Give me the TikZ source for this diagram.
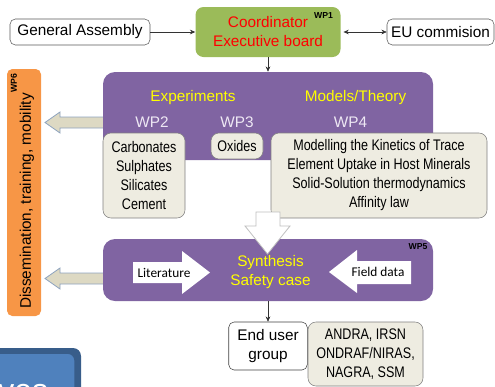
\documentclass[tikz,border=0pt]{standalone}
\usepackage{fontspec}
\setmainfont{Liberation Sans}
\newfontfamily\narrowfont[FakeStretch=0.82]{Liberation Sans}
\newfontfamily\calfont{Carlito}
\usetikzlibrary{arrows.meta,positioning}
\newcommand{\mainsize}{\fontsize{11.5pt}{14.25pt}\selectfont}
\definecolor{wpgreen}{HTML}{9BBB59}
\definecolor{wppurple}{HTML}{8064A2}
\definecolor{wporange}{HTML}{F79646}
\definecolor{wpbeige}{HTML}{EEECE1}
\definecolor{arrowbeige}{HTML}{DDD9C3}
\definecolor{arrowedge}{HTML}{8EA3BE}
\definecolor{wplilac}{HTML}{EEE8F4}
\definecolor{wpblue}{HTML}{4F81BD}
\definecolor{wpbluedark}{HTML}{385D8A}
\definecolor{wpyellow}{HTML}{FFFF00}

\begin{document}
\begin{tikzpicture}[x=0.75pt,y=-0.75pt,>={Stealth[length=4pt,width=3.5pt]}]
  % --- styles ---
    \tikzset{
      plainbox/.style  = {draw=black!65,fill=white,rounded corners=4pt,inner sep=0pt,align=center,font=\mainsize},
      coordbox/.style  = {fill=wpgreen,rounded corners=6pt,inner sep=0pt,align=center,text=red,font=\mainsize},
      wpbox/.style     = {fill=wppurple,rounded corners=9pt,inner sep=0pt},
      topicbox/.style  = {draw=black!50,fill=wpbeige,rounded corners=6pt,inner sep=0pt,align=center,font=\narrowfont\mainsize},
      headlab/.style   = {text=wpyellow,align=center,font=\mainsize},
      wplab/.style     = {text=wplilac,font=\mainsize},
      wptag/.style     = {inner sep=0pt,font=\bfseries\fontsize{6.5pt}{7pt}\selectfont},
      link/.style      = {->,line width=.5pt,black!80},
      fatarrow/.style  = {fill=white,draw=black!25,line width=.6pt},
      sidearrow/.style = {fill=arrowbeige,draw=arrowedge,line width=.6pt},
      inarrow/.style   = {fill=white},
      arrlab/.style    = {inner sep=0pt,font=\calfont\fontsize{10pt}{12pt}\selectfont}
    }
    \useasboundingbox (0,0) rectangle (495,386);
    \clip (0,0) rectangle (495,386);

    % --- top row: assembly, coordinator, commission ---
    \node[plainbox,minimum width=105pt,minimum height=19.5pt] (assembly) at (80,32) {General Assembly};
    \node[coordbox,minimum width=108.75pt,minimum height=37.5pt] (coord) at (268,32) {Coordinator\\Executive board};
    \node[wptag] (wp1) at (323.5,16) {WP1};
    \node[plainbox,minimum width=80.25pt,minimum height=19.5pt] (eu) at (440.5,32) {EU commision};
    \draw[link] (assembly) -- (coord);
    \draw[link,<->,shorten <=2pt] (coord) -- (eu);

    % --- WP6 side bar ---
    \node[fill=wporange,rounded corners=4pt,minimum width=25.5pt,minimum height=185.25pt] (dissem) at (24,192.5) {};
    \node[rotate=90,inner sep=0pt,font=\mainsize] (dissemtxt) at (27,201) {Dissemination, training, mobility};
    \node[wptag,rotate=90] (wp6) at (14,83) {WP6};

    % --- side arrows towards WP6 ---
    \draw[sidearrow] (108,117) -- (60,117) -- (60,112) -- (45,122.5) -- (60,133) -- (60,128) -- (108,128) -- cycle;
    \draw[sidearrow] (108,273) -- (60,273) -- (60,268) -- (45,278.5) -- (60,289) -- (60,284) -- (108,284) -- cycle;

    % --- research block: WP2, WP3, WP4 ---
    \node[wpbox,minimum width=247.5pt,minimum height=66pt] (research) at (268,116) {};
    \draw[link] (coord) -- (research);
    \node[headlab] (exp) at (193,98) {Experiments};
    \node[headlab] (models) at (355.5,98) {Models/Theory};
    \node[wplab] (wp2) at (152,122) {WP2};
    \node[wplab] (wp3) at (237,122) {WP3};
    \node[wplab] (wp4) at (350.5,122) {WP4};
    \node[topicbox,minimum width=61.5pt,minimum height=63.75pt] (carb) at (144,175.5) {Carbonates\\Sulphates\\Silicates\\Cement};
    \node[topicbox,minimum width=39pt,minimum height=19.5pt] (oxides) at (237,146) {Oxides};
    \node[topicbox,minimum width=162pt,minimum height=63.75pt] (kinetics) at (379,175.5) {Modelling the Kinetics of Trace\\Element Uptake in Host Minerals\\Solid-Solution thermodynamics\\Affinity law};

    % --- synthesis block: WP5 ---
    \node[wpbox,minimum width=247.5pt,minimum height=46.5pt] (synth) at (268,270) {};
    \node[wptag] (wp5) at (418,247) {WP5};
    \node[headlab] (synthtxt) at (270.5,272.5) {Synthesis\\Safety case};
    \draw[fatarrow] (256,212) -- (280,212) -- (280,226) -- (290,226) -- (267.5,254) -- (245,226) -- (256,226) -- cycle;
    \fill[inarrow] (133,262) -- (182,262) -- (182,251) -- (210,272.5) -- (182,294) -- (182,283) -- (133,283) -- cycle;
    \node[arrlab] (lit) at (164,272.5) {Literature};
    \fill[inarrow] (411,261) -- (357,261) -- (357,250) -- (329,272) -- (357,293) -- (357,284) -- (411,284) -- cycle;
    \node[arrlab] (field) at (378,272) {Field data};

    % --- end users ---
    \node[plainbox,draw=black!75,minimum width=58.9pt,minimum height=36pt] (enduser) at (268,346) {End user\\group};
    \node[topicbox,minimum width=86.25pt,minimum height=48pt] (agencies) at (365.5,354) {ANDRA, IRSN\\ONDRAF/NIRAS,\\NAGRA, SSM};
    \draw[link] (synth) -- (enduser);

    % --- cut-off box, bottom left ---
    \node[fill=wpbluedark,rounded corners=6pt,minimum width=75pt,minimum height=53.25pt] (objshade) at (31,383.5) {};
    \node[fill=wpblue,draw=wpbluedark,line width=2pt,rounded corners=6pt,minimum width=73pt,minimum height=53.25pt] (objbox) at (27,388) {};
    \node[text=white,anchor=base west,inner sep=0pt,font=\fontsize{24pt}{24pt}\selectfont] (objtxt) at (-2,401) {ves};

\end{tikzpicture}
\end{document}
